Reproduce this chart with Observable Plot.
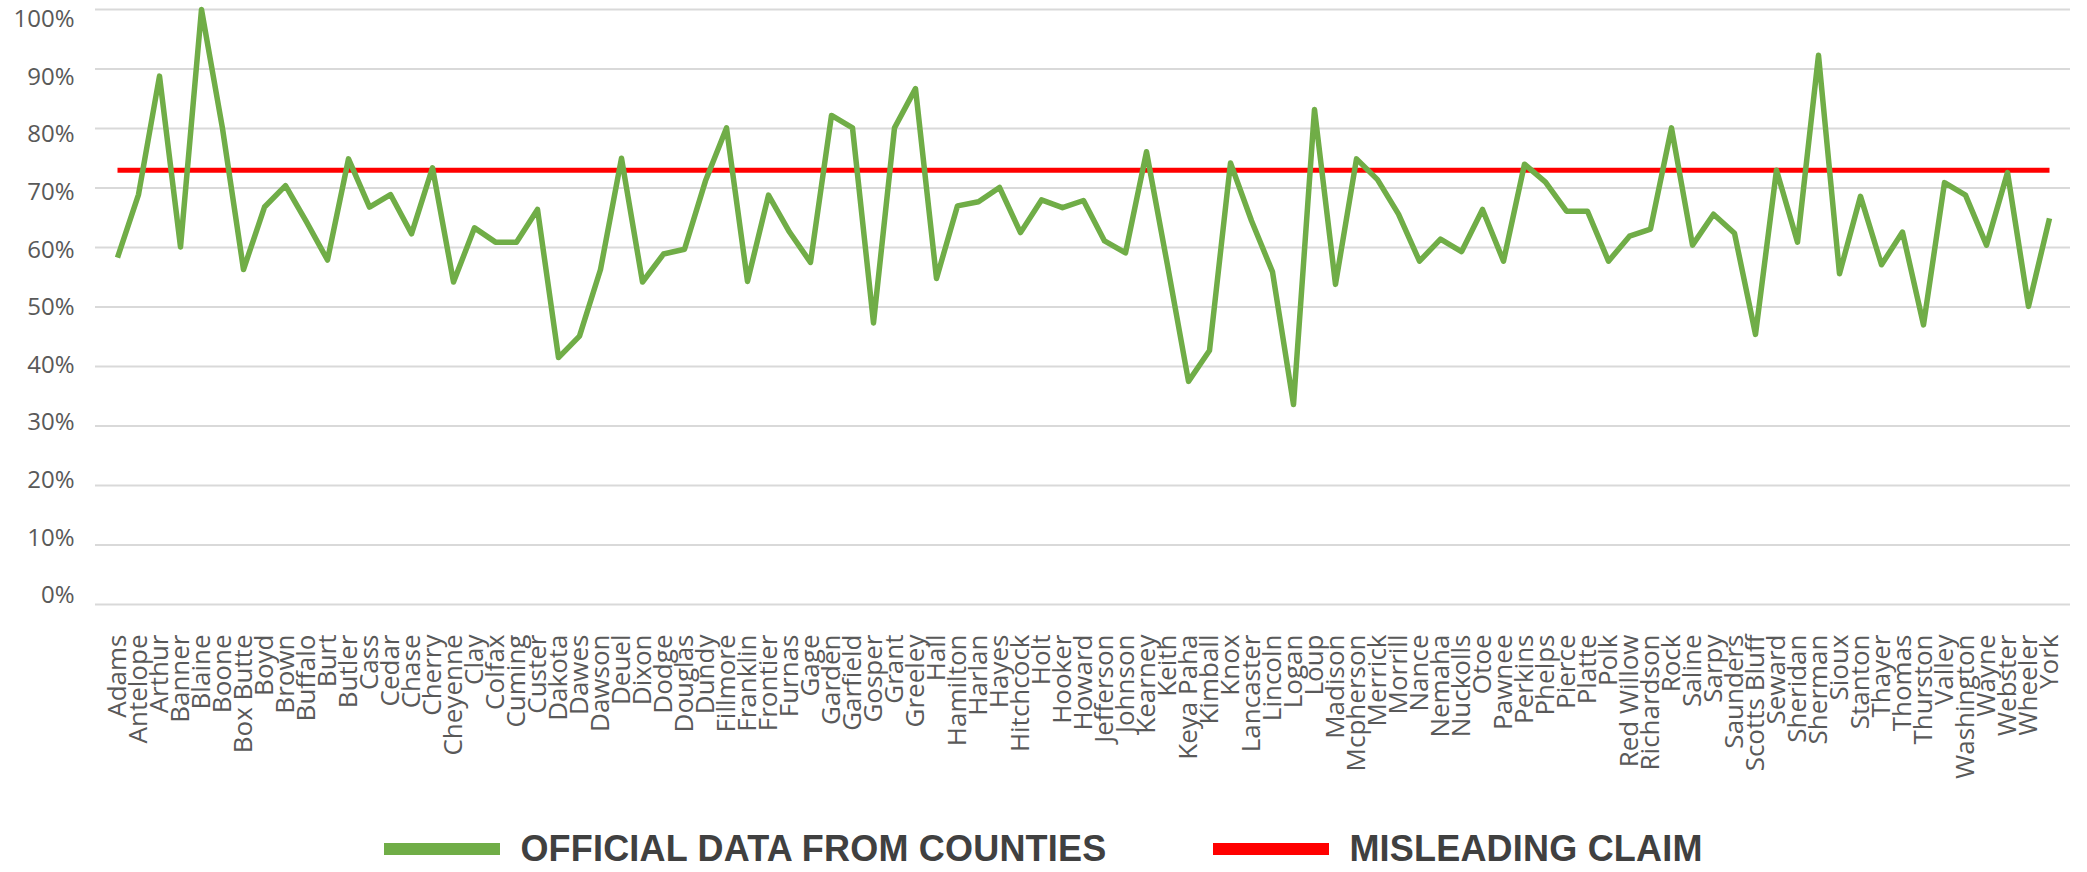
<!DOCTYPE html>
<html>
<head>
<meta charset="utf-8">
<script src="https://cdn.jsdelivr.net/npm/d3@7"></script>
<script src="https://cdn.jsdelivr.net/npm/@observablehq/plot@0.6"></script>
<style>
  html, body { margin: 0; padding: 0; background: #ffffff; }
  #chart svg { display: block; }
  .legend {
    display: flex; justify-content: center; align-items: center;
    padding-top: 29px; font-family: "Liberation Sans", Arial, sans-serif;
    font-weight: bold; font-size: 36px; letter-spacing: 0.2px; color: #404040;
    line-height: 40px;
  }
  .legend .item { display: flex; align-items: center; }
  .legend .sw { width: 116px; height: 12px; margin-right: 20px; }
  .legend .item + .item { margin-left: 107px; }
</style>
</head>
<body>
<div id="chart"></div>
<div class="legend" id="legend"></div>
<script>
const counties = ["Adams","Antelope","Arthur","Banner","Blaine","Boone","Box Butte","Boyd","Brown","Buffalo",
  "Burt","Butler","Cass","Cedar","Chase","Cherry","Cheyenne","Clay","Colfax","Cuming",
  "Custer","Dakota","Dawes","Dawson","Deuel","Dixon","Dodge","Douglas","Dundy","Fillmore",
  "Franklin","Frontier","Furnas","Gage","Garden","Garfield","Gosper","Grant","Greeley","Hall",
  "Hamilton","Harlan","Hayes","Hitchcock","Holt","Hooker","Howard","Jefferson","Johnson","Kearney",
  "Keith","Keya Paha","Kimball","Knox","Lancaster","Lincoln","Logan","Loup","Madison","Mcpherson",
  "Merrick","Morrill","Nance","Nemaha","Nuckolls","Otoe","Pawnee","Perkins","Phelps","Pierce",
  "Platte","Polk","Red Willow","Richardson","Rock","Saline","Sarpy","Saunders","Scotts Bluff","Seward",
  "Sheridan","Sherman","Sioux","Stanton","Thayer","Thomas","Thurston","Valley","Washington","Wayne",
  "Webster","Wheeler","York"];

const official = [58.3,68.9,88.8,60.1,100,80.0,56.3,66.8,70.4,64.3,
  57.9,74.9,66.8,68.9,62.3,73.4,54.2,63.3,60.9,60.9,
  66.4,41.5,45.1,56.3,75.0,54.2,58.9,59.7,71.2,80.1,
  54.3,68.8,62.6,57.5,82.2,80.1,47.3,80.1,86.7,54.8,
  67.0,67.7,70.1,62.5,68.0,66.7,67.9,61.1,59.1,76.1,
  57.0,37.5,42.7,74.2,64.5,55.9,33.6,83.2,53.8,74.9,
  71.4,65.6,57.7,61.4,59.3,66.4,57.7,74.0,71.0,66.1,
  66.1,57.7,61.9,63.1,80.1,60.4,65.6,62.4,45.4,73.0,
  60.9,92.3,55.6,68.6,57.1,62.6,47.0,70.9,68.8,60.4,
  72.6,50.1,64.9];

const claim = 73;
const yTicks = [0,10,20,30,40,50,60,70,80,90,100];
const seriesNames = ["OFFICIAL DATA FROM COUNTIES", "MISLEADING CLAIM"];
const seriesColors = ["#70AD47", "#FF0000"];

const officialData = counties.map((c, i) => ({county: c, value: official[i]}));
const claimData = [
  {county: counties[0], value: claim},
  {county: counties[counties.length - 1], value: claim}
];

// The tick labels of the original sit on a slightly tighter spacing than its gridlines
const labelPos = d => 47.4 + (d - 47.4) * 0.968;

const chart = Plot.plot({
  width: 2087,
  height: 800,
  marginLeft: 95,
  marginRight: 17,
  marginTop: 9,
  marginBottom: 196,
  style: {fontFamily: "'Open Sans', sans-serif", color: "#595959", background: "#ffffff", overflow: "visible"},
  x: {type: "point", domain: counties, padding: 0.5, label: null},
  y: {domain: [0, 100], label: null, axis: null},
  marks: [
    Plot.gridY(yTicks, {stroke: "#d9d9d9", strokeOpacity: 1, strokeWidth: 2}),
    Plot.text(yTicks, {y: labelPos, text: d => d + "%", frameAnchor: "left", textAnchor: "end", dx: -21, fontSize: 24, fill: "#595959"}),
    Plot.axisX(counties, {tickSize: 0, tickPadding: 30, tickRotate: -90, fontSize: 26, fill: "#595959", label: null}),
    Plot.line(claimData, {x: "county", y: "value", stroke: seriesColors[1], strokeWidth: 5, strokeLinecap: "butt"}),
    Plot.line(officialData, {x: "county", y: "value", stroke: seriesColors[0], strokeWidth: 5.5, strokeLinejoin: "round", strokeLinecap: "butt"})
  ]
});
document.getElementById("chart").appendChild(chart);

const legend = document.getElementById("legend");
seriesNames.forEach((name, i) => {
  const item = document.createElement("div");
  item.className = "item";
  const sw = document.createElement("span");
  sw.className = "sw";
  sw.style.background = seriesColors[i];
  const label = document.createElement("span");
  label.textContent = name;
  item.appendChild(sw);
  item.appendChild(label);
  legend.appendChild(item);
});
</script>
</body>
</html>
